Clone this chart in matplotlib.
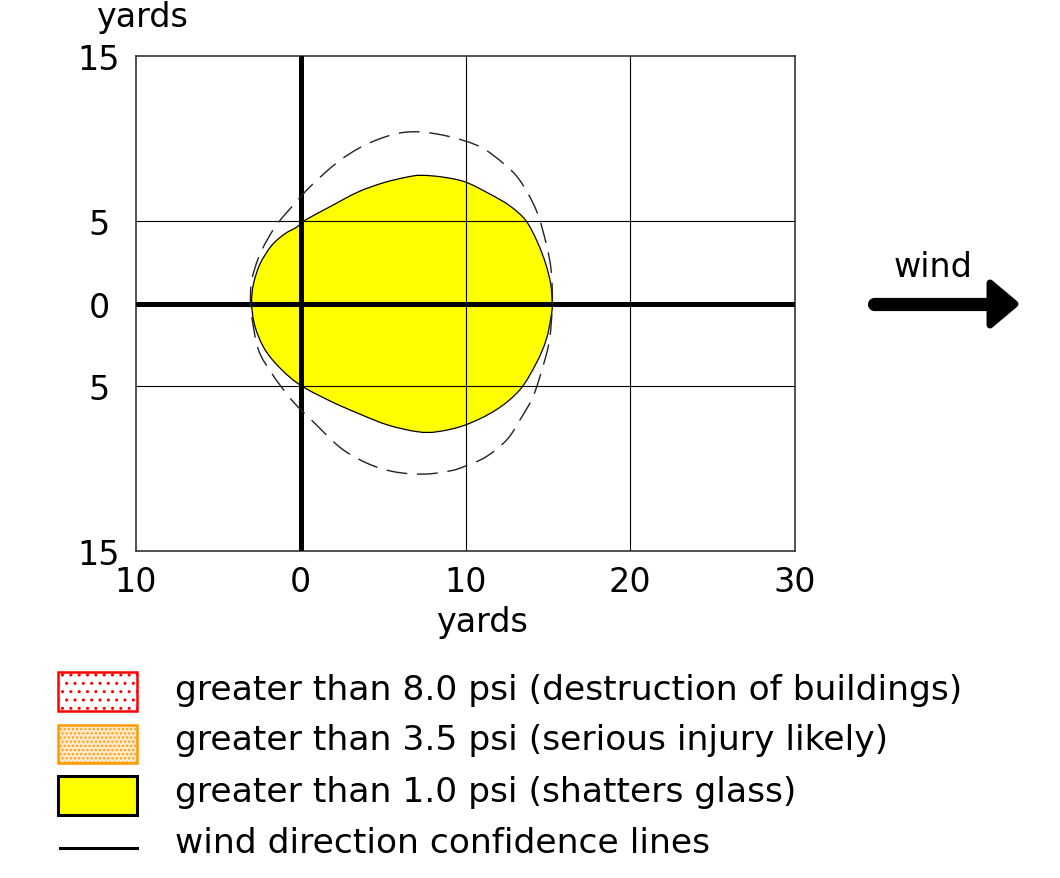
import matplotlib
matplotlib.use("Agg")
import matplotlib.pyplot as plt
from matplotlib.patches import Polygon, Rectangle, PathPatch
from matplotlib.path import Path

plt.rcParams['font.family'] = ['DejaVu Sans']

# ---- data ----
x_ticks = [-10, 0, 10, 20, 30]
x_tick_labels = ['10', '0', '10', '20', '30']
y_ticks = [-15, -5, 0, 5, 15]
y_tick_labels = ['15', '5', '0', '5', '15']
grid_x = [10, 20]
grid_y = [-5, 5]

# >1.0 psi region outline (yards)
psi1_x = [15.27, 15.17, 14.87, 14.37, 13.66, 12.66, 11.45, 10.0, 8.63, 7.3, 6.44, 5.03,
          3.46, 1.65, 0.24, -0.26, -0.97, -1.77, -2.47, -2.87, -2.98, -2.78, -2.17, -1.16,
          0.04, 1.85, 3.46, 5.27, 7.08, 8.29, 10.0, 11.85, 13.3, 14.3, 14.9, 15.2]
psi1_y = [0, 1.18, 2.40, 3.71, 5.03, 5.94, 6.65, 7.36, 7.66, 7.77, 7.66, 7.32,
          6.75, 5.80, 5.03, 4.62, 4.22, 3.51, 2.40, 1.18, 0, -1.38, -2.80, -4.01,
          -4.99, -5.94, -6.65, -7.36, -7.77, -7.77, -7.36, -6.45, -5.23, -3.61, -2.19, -0.77]

# wind direction confidence line (yards)
conf_x = [15.27, 15.2, 14.9, 14.3, 13.3, 12.31, 10.9, 9.09, 7.2, 5.68, 3.87, 2.26, 0.65,
          -0.56, -1.57, -2.47, -2.98, -3.05, -2.98, -2.57, -1.77, -0.56, 0.85, 2.46, 4.07,
          5.68, 7.48, 9.09, 10.0, 11.25, 12.5, 13.3, 14.1, 14.7, 15.1]
conf_y = [0, 1.99, 3.61, 5.64, 7.46, 8.48, 9.49, 10.10, 10.40, 10.26, 9.59, 8.58, 7.16,
          5.84, 4.62, 3.00, 1.38, 0, -0.77, -2.80, -4.22, -5.84, -7.26, -8.78, -9.70,
          -10.2, -10.34, -10.14, -9.85, -9.29, -8.27, -7.06, -5.64, -3.81, -2.19]

legend_labels = ['greater than 8.0 psi (destruction of buildings)',
                 'greater than 3.5 psi (serious injury likely)',
                 'greater than 1.0 psi (shatters glass)',
                 'wind direction confidence lines']


def smooth_closed_path(xs, ys):
    """Closed path through the read points, drawn with Catmull-Rom style Bezier segments."""
    n = len(xs)
    pts = list(zip(xs, ys))
    verts = [pts[0]]
    codes = [Path.MOVETO]
    for i in range(n):
        p0 = pts[(i - 1) % n]
        p1 = pts[i]
        p2 = pts[(i + 1) % n]
        p3 = pts[(i + 2) % n]
        c1 = (p1[0] + (p2[0] - p0[0]) / 6.0, p1[1] + (p2[1] - p0[1]) / 6.0)
        c2 = (p2[0] - (p3[0] - p1[0]) / 6.0, p2[1] - (p3[1] - p1[1]) / 6.0)
        verts += [c1, c2, p2]
        codes += [Path.CURVE4] * 3
    codes[-1] = Path.CURVE4
    return Path(verts, codes)


# ---- figure ----
W, H = 1060, 879
fig = plt.figure(figsize=(W / 100, H / 100), dpi=100)
FS = 24
LFS = 24.8

ax = fig.add_axes([136 / W, 1 - 552 / H, (795 - 136) / W, (552 - 57) / H])
ax.set_xlim(-10, 30)
ax.set_ylim(-15, 15)

ax.add_patch(PathPatch(smooth_closed_path(psi1_x, psi1_y), facecolor='#ffff00',
                       edgecolor='black', linewidth=0.9, zorder=1))
for gx in grid_x:
    ax.axvline(gx, color='black', linewidth=0.8, zorder=2)
for gy in grid_y:
    ax.axhline(gy, color='black', linewidth=0.8, zorder=2)
ax.axvline(0, color='black', linewidth=3.6, zorder=3)
ax.axhline(0, color='black', linewidth=3.6, zorder=3)
ax.add_patch(PathPatch(smooth_closed_path(conf_x, conf_y), facecolor='none',
                       edgecolor='#222222', linewidth=1.0,
                       linestyle=(0, (15, 7)), zorder=4))

ax.set_xticks(x_ticks)
ax.set_xticklabels(x_tick_labels, fontsize=FS)
ax.set_yticks(y_ticks)
ax.set_yticklabels(y_tick_labels, fontsize=FS, ha='center')
ax.tick_params(axis='x', length=0, pad=10)
ax.tick_params(axis='y', length=0, pad=26.6)
for s in ax.spines.values():
    s.set_linewidth(1.2)
    s.set_color('#333333')

# overlay in pixel coordinates for labels, arrow and legend
ov = fig.add_axes([0, 0, 1, 1], facecolor='none')
ov.set_xlim(0, W)
ov.set_ylim(H, 0)
ov.axis('off')

ov.text(142, 27, 'yards', fontsize=FS, ha='center', va='baseline')
ov.text(482, 632, 'yards', fontsize=FS, ha='center', va='baseline')

# wind arrow
ov.text(933, 277, 'wind', fontsize=FS, ha='center', va='baseline')
ov.plot([874, 990], [305, 305], color='black', linewidth=9.5, solid_capstyle='round')
ov.add_patch(Polygon([(990, 284), (1015, 305), (990, 326)], closed=True,
                     facecolor='black', edgecolor='black', linewidth=5, joinstyle='round'))

# legend
ov.add_patch(Rectangle((58, 673), 79, 39, facecolor='white', edgecolor='#ff0000',
                       hatch='..', linewidth=1.8))
ov.add_patch(Rectangle((58, 726), 79, 38, facecolor='#ffe8c8', edgecolor='#ff9900',
                       hatch='....', linewidth=1.8))
ov.add_patch(Rectangle((58, 777), 79, 39, facecolor='#ffff00', edgecolor='black',
                       linewidth=2.2))
ov.plot([60, 137], [849, 849], color='black', linewidth=2.2)
for lbl, yb in zip(legend_labels, [700, 750, 802, 853]):
    ov.text(175, yb, lbl, fontsize=LFS, ha='left', va='baseline')

fig.savefig('out.png', dpi=100)
